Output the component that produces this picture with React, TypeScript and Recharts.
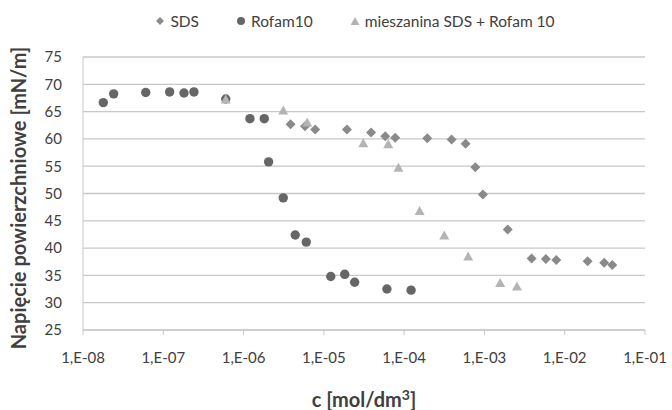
import { ScatterChart, Scatter, XAxis, YAxis, CartesianGrid, Legend, Label } from "recharts";

// c [mol/dm3] and surface tension [mN/m]
const sdsC = [3.85e-6, 5.82e-6, 7.8e-6, 1.94e-5, 3.87e-5, 5.82e-5, 7.74e-5, 1.94e-4, 3.9e-4, 5.83e-4, 7.7e-4, 9.57e-4, 1.95e-3, 3.87e-3, 5.83e-3, 7.85e-3, 1.93e-2, 3.1e-2, 3.91e-2];
const sdsT = [62.7, 62.3, 61.7, 61.7, 61.15, 60.5, 60.2, 60.1, 59.9, 59.1, 54.8, 49.8, 43.4, 38.1, 38.0, 37.8, 37.6, 37.3, 36.9];

const rofamC = [1.79e-8, 2.41e-8, 6.04e-8, 1.2e-7, 1.81e-7, 2.41e-7, 6.0e-7, 1.2e-6, 1.81e-6, 2.05e-6, 3.12e-6, 4.4e-6, 6.04e-6, 1.22e-5, 1.82e-5, 2.42e-5, 6.1e-5, 1.22e-4];
const rofamT = [66.65, 68.25, 68.5, 68.6, 68.4, 68.6, 67.3, 63.7, 63.7, 55.8, 49.2, 42.4, 41.1, 34.8, 35.2, 33.75, 32.5, 32.3];

const mixC = [6.0e-7, 3.12e-6, 6.2e-6, 3.1e-5, 6.34e-5, 8.5e-5, 1.56e-4, 3.16e-4, 6.28e-4, 1.57e-3, 2.54e-3];
const mixT = [67.2, 65.2, 63.0, 59.2, 59.0, 54.7, 46.8, 42.3, 38.45, 33.6, 32.95];

const xTicks = [1e-8, 1e-7, 1e-6, 1e-5, 1e-4, 1e-3, 1e-2, 1e-1];
const yTicks = [25, 30, 35, 40, 45, 50, 55, 60, 65, 70, 75];

const COLORS = { sds: "#8a8a8a", rofam: "#666666", mix: "#b4b4b4" };
const TEXT = "#404040";
const GRID = "#c8c8c8";

const toPoints = (c: number[], t: number[]) => c.map((x, i) => ({ c: x, t: t[i] }));

function fmtExp(v: number) {
  const e = Math.round(Math.log10(v));
  return `1,E-${String(-e).padStart(2, "0")}`;
}

const DiamondShape = (p: any) => (
  <polygon points={`${p.cx},${p.cy - 5} ${p.cx + 5},${p.cy} ${p.cx},${p.cy + 5} ${p.cx - 5},${p.cy}`} fill={COLORS.sds} />
);
const CircleShape = (p: any) => <circle cx={p.cx} cy={p.cy} r={4.7} fill={COLORS.rofam} />;
const TriangleShape = (p: any) => (
  <polygon points={`${p.cx},${p.cy - 5} ${p.cx + 5},${p.cy + 4} ${p.cx - 5},${p.cy + 4}`} fill={COLORS.mix} />
);

function LegendIcon({ kind, color }: { kind: string; color: string }) {
  return (
    <svg width={10} height={10} style={{ marginRight: 5 }}>
      {kind === "diamond" && <polygon points="5,1 9,5 5,9 1,5" fill={color} />}
      {kind === "circle" && <circle cx={5} cy={5} r={4} fill={color} />}
      {kind === "triangle" && <polygon points="5,1 9.5,9 0.5,9" fill={color} />}
    </svg>
  );
}

function ChartLegend() {
  const items = [
    { kind: "diamond", color: COLORS.sds, label: "SDS" },
    { kind: "circle", color: COLORS.rofam, label: "Rofam10" },
    { kind: "triangle", color: COLORS.mix, label: "mieszanina SDS + Rofam 10" },
  ];
  return (
    <div style={{ display: "flex", justifyContent: "center", gap: 37, paddingLeft: 38, color: TEXT, fontSize: 15.5 }}>
      {items.map((it) => (
        <div key={it.label} style={{ display: "flex", alignItems: "center" }}>
          <LegendIcon kind={it.kind} color={it.color} />
          <span>{it.label}</span>
        </div>
      ))}
    </div>
  );
}

export default function App() {
  return (
    <div style={{ position: "absolute", left: 0, top: 0, width: 672, height: 410, background: "#fff", fontFamily: "Lato, 'Open Sans', sans-serif" }}>
      <ScatterChart width={672} height={410} margin={{ top: 57, right: 27, bottom: 40, left: 0 }}>
        <CartesianGrid vertical={false} stroke={GRID} strokeWidth={1.3} />
        <XAxis
          dataKey="c"
          type="number"
          scale="log"
          domain={[1e-8, 1e-1]}
          ticks={xTicks}
          tickFormatter={fmtExp}
          allowDataOverflow
          stroke={GRID}
          tickSize={5}
          tickMargin={17}
          tick={{ fill: TEXT, fontSize: 15 }}
          height={40}
        >
          <Label
            content={(props: any) => {
              const vb = props.viewBox;
              return (
                <text x={vb.x + vb.width / 2} y={407} textAnchor="middle" fontWeight="bold" fontSize={20} fill={TEXT}>
                  c [mol/dm<tspan dy={-7} fontSize={14}>3</tspan><tspan dy={7}>]</tspan>
                </text>
              );
            }}
          />
        </XAxis>
        <YAxis
          dataKey="t"
          type="number"
          domain={[25, 75]}
          ticks={yTicks}
          width={83}
          stroke={GRID}
          tickLine={false}
          tickSize={0}
          tickMargin={21}
          tick={{ fill: TEXT, fontSize: 15 }}
        >
          <Label
            content={() => (
              <text x={18} y={198} transform="rotate(-90, 18, 198)" textAnchor="middle" dominantBaseline="central" fontWeight="bold" fontSize={20} fill={TEXT}>
                Napięcie powierzchniowe [mN/m]
              </text>
            )}
          />
        </YAxis>
        <Legend verticalAlign="middle" align="center" content={() => <ChartLegend />} wrapperStyle={{ top: 12, left: 0, width: 672 }} />
        <Scatter name="SDS" data={toPoints(sdsC, sdsT)} shape={DiamondShape} isAnimationActive={false} />
        <Scatter name="Rofam10" data={toPoints(rofamC, rofamT)} shape={CircleShape} isAnimationActive={false} />
        <Scatter name="mieszanina SDS + Rofam 10" data={toPoints(mixC, mixT)} shape={TriangleShape} isAnimationActive={false} />
      </ScatterChart>
    </div>
  );
}
